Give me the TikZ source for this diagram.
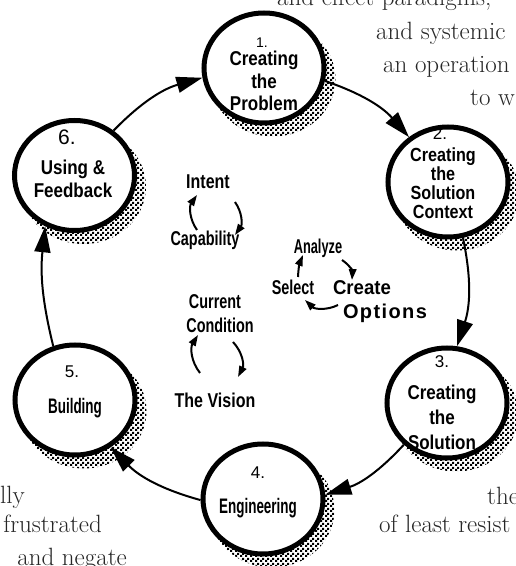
\documentclass[tikz,border=0pt]{standalone}
\usepackage{fontspec}
\newfontfamily\labf[FakeStretch=0.85]{Liberation Sans}
\newfontfamily\labn[FakeStretch=0.64]{Liberation Sans}
\newfontfamily\midf[FakeStretch=0.72]{Liberation Sans}
\newfontfamily\midw[FakeStretch=0.8]{Liberation Sans}
\newfontfamily\midc[FakeStretch=0.93]{Liberation Sans}
\newfontfamily\optf[LetterSpace=7]{Liberation Sans}
\newfontfamily\numf{Liberation Sans}
\usetikzlibrary{shapes.geometric,arrows.meta,patterns}
\pgfdeclarepatternformonly{finechecker}{\pgfqpoint{0pt}{0pt}}{\pgfqpoint{5pt}{5pt}}{\pgfqpoint{5pt}{5pt}}{%
  \pgfpathrectangle{\pgfqpoint{0pt}{0pt}}{\pgfqpoint{2.5pt}{2.5pt}}%
  \pgfpathrectangle{\pgfqpoint{2.5pt}{2.5pt}}{\pgfqpoint{2.5pt}{2.5pt}}%
  \pgfusepath{fill}}
\tikzset{
 stage/.style={ellipse, draw=black, line width=5pt, fill=white, minimum width=120pt, minimum height=110pt, inner sep=0pt},
 shadefill/.style={pattern=finechecker, pattern color=black},
 num/.style={font=\numf\fontsize{17}{17}\selectfont, inner sep=0pt},
 lab/.style={font=\labf\bfseries\fontsize{20}{22.5}\selectfont, align=center, inner sep=0pt},
 mid/.style={font=\midf\bfseries\fontsize{20}{20}\selectfont, inner sep=0pt},
 bg/.style={font=\fontsize{25}{25}\selectfont, text=black!85, inner sep=0pt},
 cyc/.style={line width=2pt, -{Triangle[length=26pt,width=16pt]}},
 mini/.style={line width=2pt, -{Triangle[length=11pt,width=7.5pt]}},
}
\begin{document}
\begin{tikzpicture}[x=1pt,y=1pt]
\useasboundingbox (0,0) rectangle (516,566);
\clip (0,0) rectangle (516,566);
% background page text
\node[bg, anchor=base west] (p1) at (277,560) {and effect paradigms,};
\node[bg, anchor=base west] (p2) at (376,526) {and systemic};
\node[bg, anchor=base west] (p3) at (383,493) {an operation};
\node[bg, anchor=base west] (p4) at (470,460) {to w};
\node[bg, anchor=base east] (p5) at (25,63) {ally};
\node[bg, anchor=base east] (p6) at (102,33) {frustrated};
\node[bg, anchor=base east] (p7) at (127,1) {and negate};
\node[bg, anchor=base west] (p8) at (487,61) {the};
\node[bg, anchor=base west] (p9) at (379,33) {of least resist};
% shadows
\foreach \x/\y in {264/498,448/384,447/163,263/67,75/166,74.5/390.5}
  \fill[shadefill] (\x+9,\y-11) ellipse [x radius=62.5, y radius=57.5];
% stages
\node[stage] (c1) at (264,498) {};
\node[stage] (c2) at (448,384) {};
\node[stage] (c3) at (447,163) {};
\node[stage] (c4) at (263,67) {};
\node[stage] (c5) at (75,166) {};
\node[stage] (c6) at (74.5,390.5) {};
% stage texts
\node[num, font=\numf\fontsize{14}{14}\selectfont] (n1) at (262,523) {1.};
\node[lab] (t1) at (264,485) {Creating\\the\\Problem};
\node[num] (n2) at (440,432) {2.};
\node[lab, font=\labf\bfseries\fontsize{19}{19}\selectfont] (t2) at (443,383) {Creating\\the\\Solution\\Context};
\node[num] (n3) at (442,204) {3.};
\node[lab, font=\labf\bfseries\fontsize{20}{25}\selectfont] (t3) at (442,149) {Creating\\the\\Solution};
\node[num] (n4) at (258,93) {4.};
\node[lab, font=\labn\bfseries\fontsize{21}{21}\selectfont] (t4) at (258,58) {Engineering};
\node[num] (n5) at (72,194) {5.};
\node[lab, font=\labn\bfseries\fontsize{21}{21}\selectfont] (t5) at (75,158) {Building};
\node[num, font=\numf\fontsize{21}{21}\selectfont] (n6) at (67,429) {6.};
\node[lab, font=\labf\bfseries\fontsize{20}{23}\selectfont] (t6) at (73,387) {Using \&\\Feedback};
% main cycle
\draw[cyc] (c6.49) to[bend left=15] (c1.189);
\draw[cyc] (c1.-12) to[bend left=15] (c2.131);
\draw[cyc] (c2.-75) to[bend left=15] (c3.80);
\draw[cyc] (c3.224) to[bend left=15] (c4.4);
\draw[cyc] (c4.181) to[bend left=15] (c5.-53);
\draw[cyc] (c5.112) to[bend left=10] (c6.240);
% inner labels
\node[mid, font=\midw\bfseries\fontsize{20}{20}\selectfont] (int) at (208,384) {Intent};
\node[mid] (cap) at (205,326) {Capability};
\node[mid, font=\labn\bfseries\fontsize{20}{20}\selectfont] (ana) at (318,318) {Analyze};
\node[mid] (sel) at (293,279) {Select};
\node[mid, font=\midc\bfseries\fontsize{20}{20}\selectfont] (cre) at (362,278) {Create};
\node[mid, font=\optf\bfseries\fontsize{20}{20}\selectfont] (opt) at (385,253) {Options};
\node[mid] (cur) at (215,264) {Current};
\node[mid] (con) at (220,241) {Condition};
\node[mid, font=\midw\bfseries\fontsize{20}{20}\selectfont] (vis) at (215,166) {The Vision};
% inner cycles
\draw[mini] ([shift={(-8,10)}]cap.center) to[bend left=35] ([shift={(-11,-13)}]int.center);
\draw[mini] ([shift={(27,-20)}]int.center) to[bend left=35] ([shift={(30,5)}]cap.center);
\draw[mini] ([shift={(5,10)}]sel.center) to[bend left=10] ([shift={(-15,-7)}]ana.center);
\draw[mini] ([shift={(24,-12)}]ana.center) to[bend left=30] ([shift={(-10,8)}]cre.center);
\draw[mini] ([shift={(-24,-17)}]cre.center) to[bend left=35] ([shift={(12,-13)}]sel.center);
\draw[mini] ([shift={(-15,27)}]vis.center) to[bend left=35] ([shift={(-22,-10)}]con.center);
\draw[mini] ([shift={(13,-17)}]con.center) to[bend left=35] ([shift={(23,23)}]vis.center);
\end{tikzpicture}
\end{document}
